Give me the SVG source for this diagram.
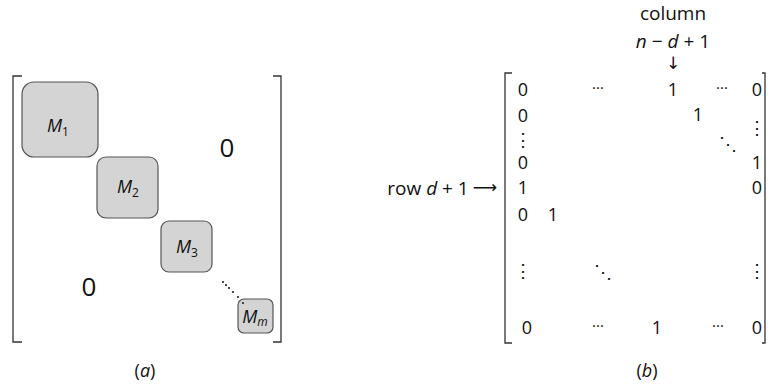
<svg xmlns="http://www.w3.org/2000/svg" width="769" height="390" viewBox="0 0 769 390">
  <style>
    text { font-family: "Open Sans", "Noto Sans", "Liberation Sans", sans-serif; fill: #111; }
    .blk { fill: #d4d4d4; stroke: #555; stroke-width: 1.2; }
    .br { fill: none; stroke: #333; stroke-width: 1.3; }
    .lbl { font-size: 18px; font-style: italic; text-anchor: middle; }
    .big { font-size: 26px; text-anchor: middle; }
    .el { font-size: 18px; text-anchor: middle; }
    .ann { font-size: 19px; text-anchor: middle; }
    .dots { font-size: 15px; text-anchor: middle; }
    .cap { font-size: 18px; text-anchor: middle; }
    .arr { font-family: "DejaVu Sans", sans-serif; font-size: 17px; }
  </style>

  <!-- (a) block-diagonal matrix -->
  <g id="bracketsA">
    <path class="br" d="M22,76 H13 V342 H22"/>
    <path class="br" d="M273,76 H281 V342 H273"/>
  </g>

  <g id="M1">
    <rect class="blk" x="22" y="82" width="76" height="75" rx="12"/>
    <text class="lbl" x="58" y="132">M<tspan font-size="12" font-style="normal" dy="4">1</tspan></text>
  </g>
  <g id="M2">
    <rect class="blk" x="97" y="157" width="61" height="61" rx="9"/>
    <text class="lbl" x="128" y="193">M<tspan font-size="12" font-style="normal" dy="4">2</tspan></text>
  </g>
  <g id="M3">
    <rect class="blk" x="161" y="221" width="51" height="51" rx="8"/>
    <text class="lbl" x="187" y="253">M<tspan font-size="12" font-style="normal" dy="4">3</tspan></text>
  </g>
  <g id="Mm">
    <rect class="blk" x="238" y="299" width="35" height="34" rx="6"/>
    <text class="lbl" x="255" y="323">M<tspan font-size="12" dy="3">m</tspan></text>
  </g>

  <g id="diagDots" fill="#222">
    <circle cx="223" cy="282" r="1.1"/>
    <circle cx="226" cy="285" r="1.1"/>
    <circle cx="229" cy="288" r="1.1"/>
    <circle cx="233" cy="292" r="1.1"/>
    <circle cx="238" cy="297" r="1.1"/>
    <circle cx="243" cy="303" r="1.1"/>
  </g>

  <text class="big" x="227" y="157">0</text>
  <text class="big" x="89" y="296">0</text>
  <text class="cap" x="145" y="377"><tspan>(</tspan><tspan font-style="italic">a</tspan><tspan>)</tspan></text>

  <!-- (b) permutation matrix -->
  <g id="bracketsB">
    <path class="br" d="M512,73 H505 V343 H512"/>
    <path class="br" d="M762,73 H765 V343 H762"/>
  </g>

  <g id="entries">
    <!-- row 1 -->
    <text class="el" x="523" y="96">0</text>
    <text class="dots" x="598" y="93">···</text>
    <text class="el" x="673" y="96">1</text>
    <text class="dots" x="722" y="93">···</text>
    <text class="el" x="757" y="96">0</text>
    <!-- row 2 -->
    <text class="el" x="523" y="122">0</text>
    <text class="el" x="698" y="121">1</text>
    <!-- row 3 -->
    <text class="el" x="523" y="146">⋮</text>
    <text class="el" x="757" y="134">⋮</text>
    <text class="el" x="728" y="150">⋱</text>
    <!-- row 4 -->
    <text class="el" x="523" y="169">0</text>
    <text class="el" x="757" y="169">1</text>
    <!-- row 5 -->
    <text class="el" x="523" y="194">1</text>
    <text class="el" x="757" y="194">0</text>
    <!-- row 6 -->
    <text class="el" x="523" y="221">0</text>
    <text class="el" x="553" y="221">1</text>
    <!-- gap -->
    <text class="el" x="523" y="277">⋮</text>
    <text class="el" x="603" y="278">⋱</text>
    <text class="el" x="757" y="277">⋮</text>
    <!-- last row -->
    <text class="el" x="527" y="334">0</text>
    <text class="dots" x="598" y="331">···</text>
    <text class="el" x="657" y="334">1</text>
    <text class="dots" x="718" y="331">···</text>
    <text class="el" x="757" y="334">0</text>
  </g>

  <g id="annotations">
    <text class="ann" x="673" y="20">column</text>
    <text class="ann" x="673" y="48"><tspan font-style="italic">n</tspan> − <tspan font-style="italic">d</tspan> + 1</text>
    <text class="el arr" x="673" y="69">↓</text>
    <text class="ann" x="428" y="195">row <tspan font-style="italic">d</tspan> + 1</text>
    <text class="el arr" x="485" y="193">⟶</text>
  </g>

  <text class="cap" x="647" y="377"><tspan>(</tspan><tspan font-style="italic">b</tspan><tspan>)</tspan></text>
</svg>
